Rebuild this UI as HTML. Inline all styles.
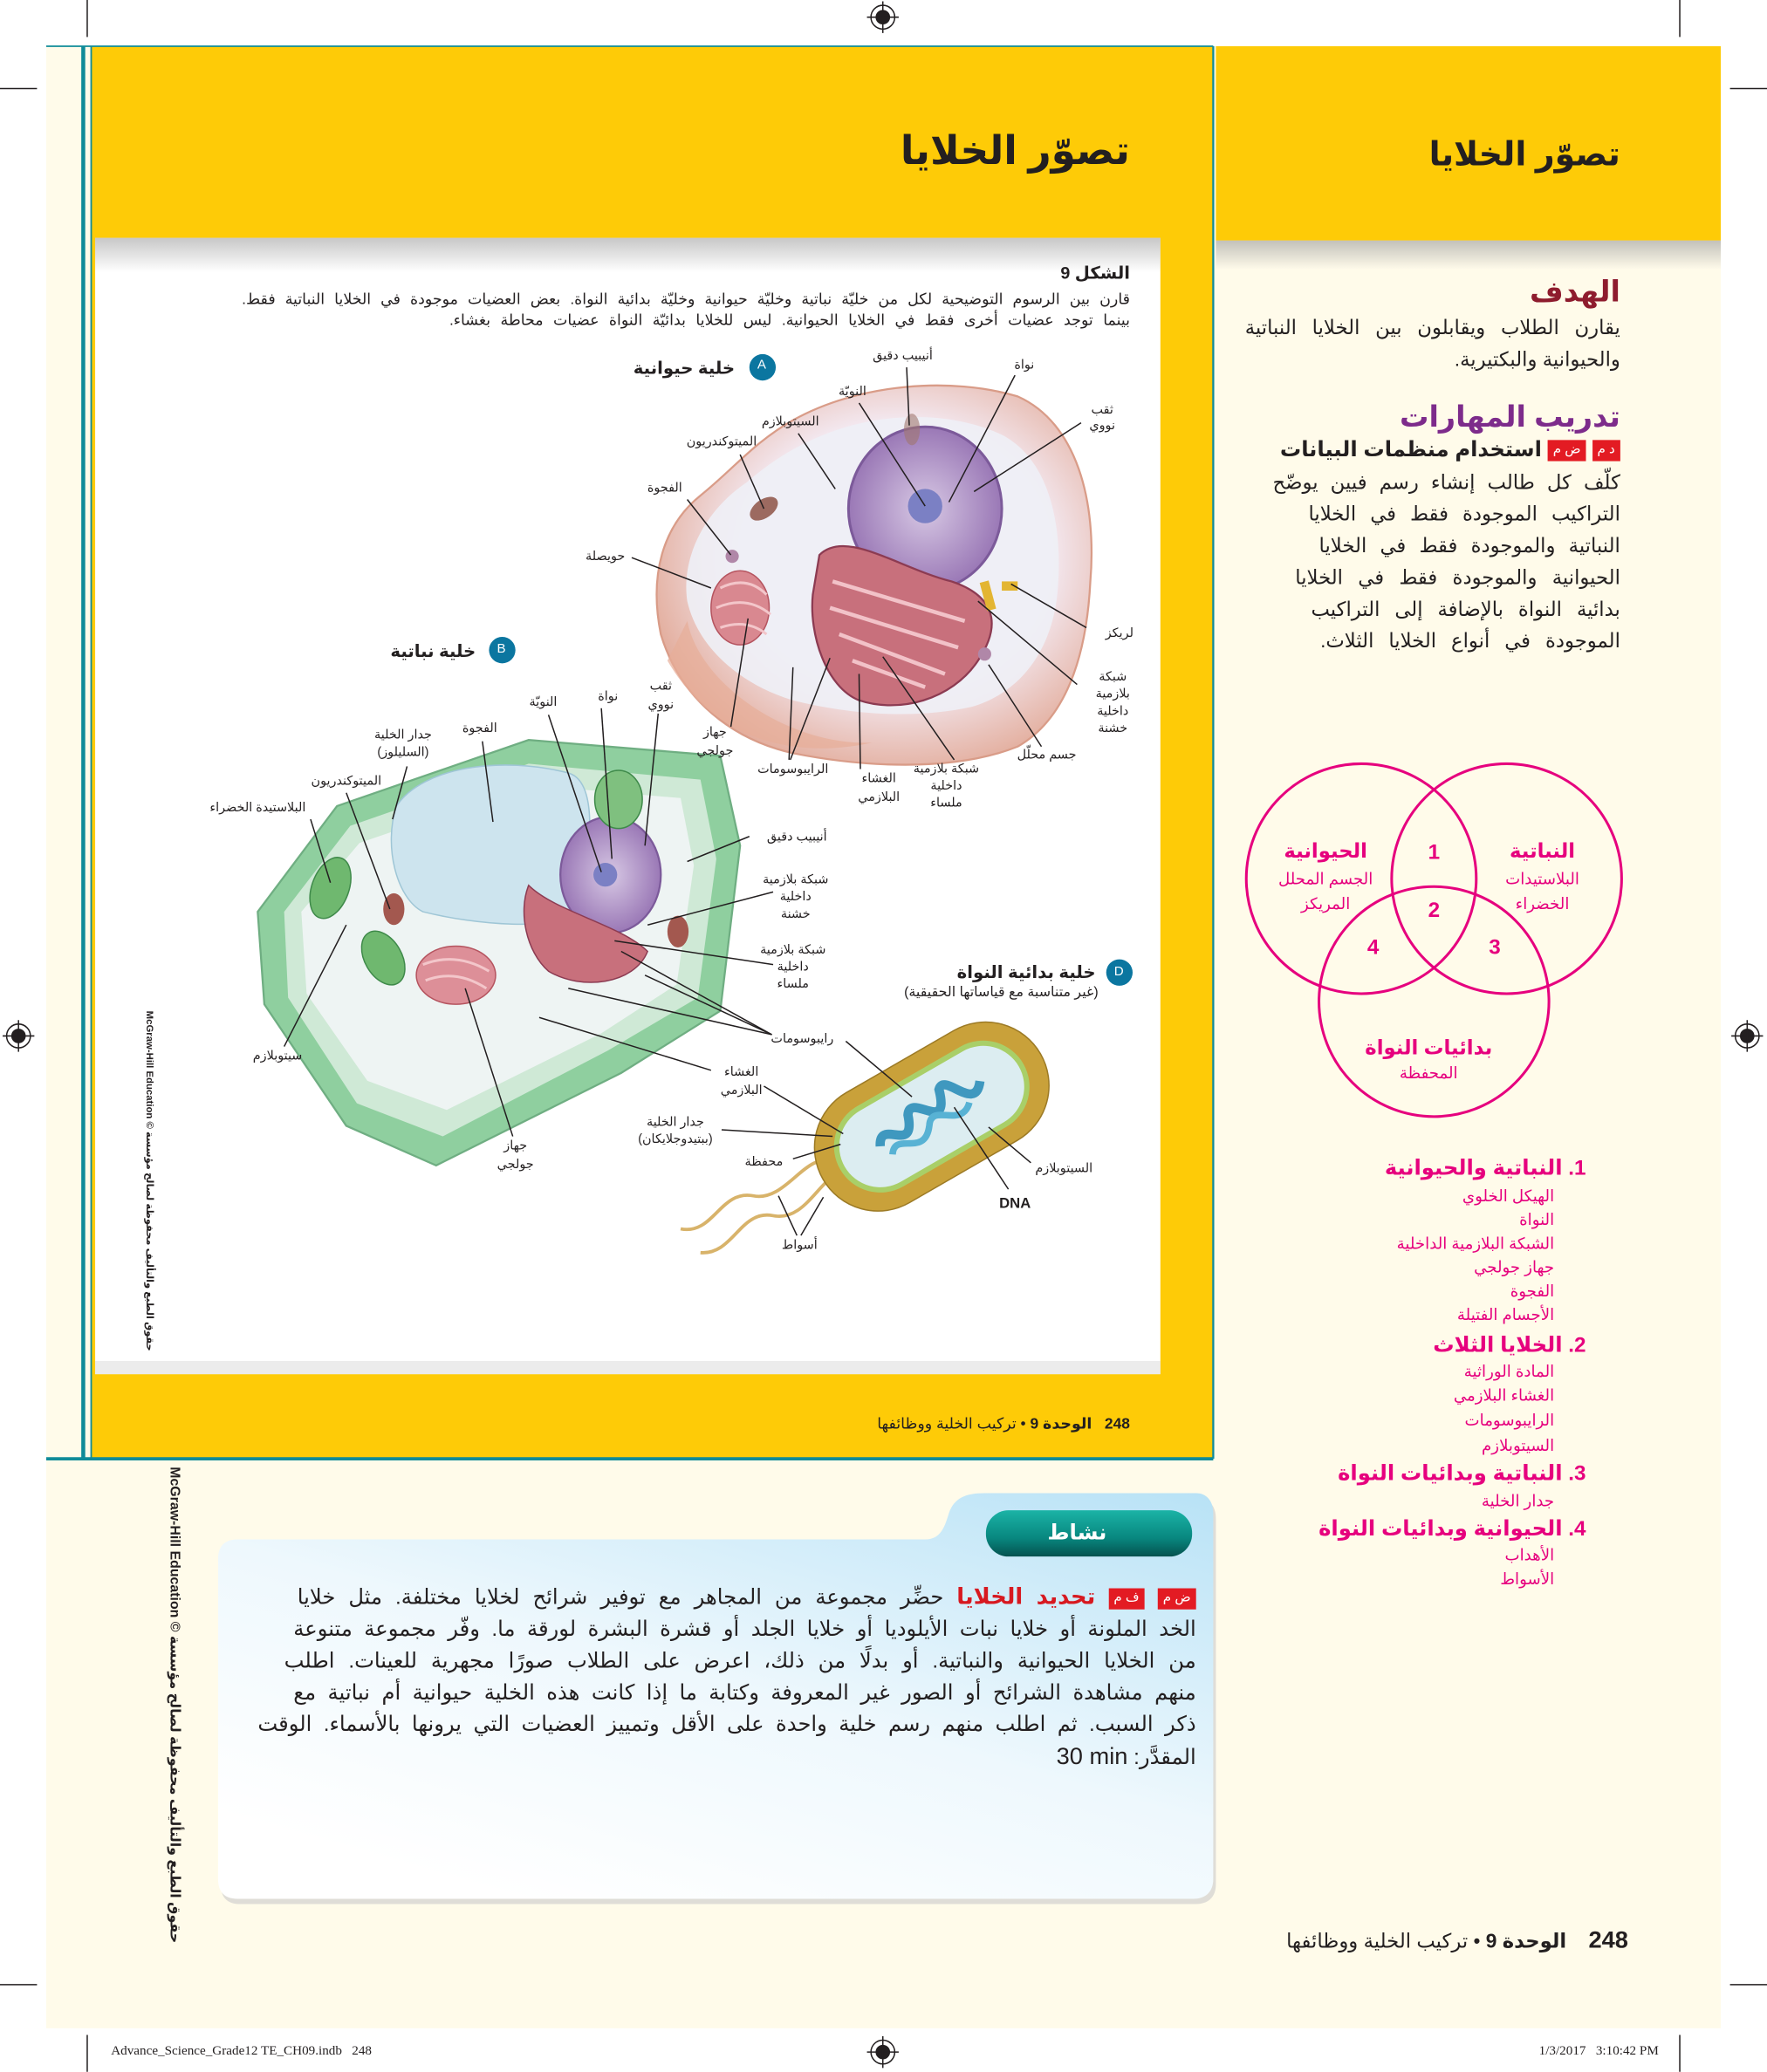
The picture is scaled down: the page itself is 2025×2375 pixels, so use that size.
<!DOCTYPE html>
<html><head><meta charset="utf-8">
<style>
html,body{margin:0;padding:0;background:#fff;}
body{width:2025px;height:2375px;overflow:hidden;position:relative;}
#p{position:absolute;left:0;top:0;width:1337px;height:1568px;transform:scale(1.51459);transform-origin:0 0;font-family:"Liberation Sans","DejaVu Sans",sans-serif;color:#231f20;}
.t{position:absolute;white-space:nowrap;direction:rtl;line-height:1;}
.c{position:absolute;white-space:nowrap;direction:rtl;text-align:center;transform:translate(-50%,-50%);font-size:9.5px;line-height:12px;color:#231f20;}
.j{position:absolute;white-space:nowrap;direction:rtl;text-align:justify;text-align-last:justify;line-height:1;}
.b{display:inline-block;background:#e31b23;color:#fff;font-size:10px;padding:2px 4px;line-height:12px;font-weight:normal;vertical-align:middle;}
.m{color:#e6007e;}
</style></head><body>
<div id="p">
<svg width="1337" height="1568" viewBox="0 0 1337 1568" style="position:absolute;left:0;top:0">
<defs>
<linearGradient id="sh" x1="0" y1="0" x2="0" y2="1"><stop offset="0" stop-color="#9a9a9a"/><stop offset="1" stop-color="#9a9a9a" stop-opacity="0"/></linearGradient>
<linearGradient id="act" x1="1" y1="0" x2="0.3" y2="1"><stop offset="0" stop-color="#b8e2f6"/><stop offset="0.55" stop-color="#eef8fd"/><stop offset="1" stop-color="#ffffff"/></linearGradient>
<linearGradient id="pill" x1="0" y1="0" x2="0" y2="1"><stop offset="0" stop-color="#1bb3a6"/><stop offset="0.6" stop-color="#08877f"/><stop offset="1" stop-color="#05524f"/></linearGradient>
<radialGradient id="ac" cx="0.55" cy="0.45" r="0.6"><stop offset="0.6" stop-color="#f3e7ee"/><stop offset="1" stop-color="#e2aa98"/></radialGradient>
<radialGradient id="nuc" cx="0.5" cy="0.5" r="0.5"><stop offset="0" stop-color="#d7c8e4"/><stop offset="1" stop-color="#9a78b6"/></radialGradient>
</defs>
<g stroke="#231f20" stroke-width="1">
<line x1="66" y1="0" x2="66" y2="28"/><line x1="1271" y1="0" x2="1271" y2="28"/>
<line x1="0" y1="67" x2="28" y2="67"/><line x1="1309" y1="67" x2="1337" y2="67"/>
<line x1="66" y1="1540" x2="66" y2="1568"/><line x1="1271" y1="1540" x2="1271" y2="1568"/>
<line x1="0" y1="1502" x2="28" y2="1502"/><line x1="1309" y1="1502" x2="1337" y2="1502"/>
</g>
<g fill="none" stroke="#231f20">
<circle cx="668" cy="13" r="9"/><circle cx="668" cy="13" r="5" fill="#231f20"/><line x1="656" y1="13" x2="680" y2="13"/><line x1="668" y1="1" x2="668" y2="25"/>
<circle cx="14" cy="784" r="9"/><circle cx="14" cy="784" r="5" fill="#231f20"/><line x1="2" y1="784" x2="26" y2="784"/><line x1="14" y1="772" x2="14" y2="796"/>
<circle cx="1322" cy="784" r="9"/><circle cx="1322" cy="784" r="5" fill="#231f20"/><line x1="1310" y1="784" x2="1334" y2="784"/><line x1="1322" y1="772" x2="1322" y2="796"/>
<circle cx="668" cy="1553" r="9"/><circle cx="668" cy="1553" r="5" fill="#231f20"/><line x1="656" y1="1553" x2="680" y2="1553"/><line x1="668" y1="1541" x2="668" y2="1565"/>
</g>
<rect x="35" y="35" width="1267" height="1500" fill="#fffbea"/>
<rect x="920" y="35" width="382" height="147" fill="#fecb07"/>
<rect x="920" y="182" width="382" height="22" fill="url(#sh)" opacity="0.6"/>
<rect x="69" y="35" width="849" height="1068" fill="#fecb07"/>
<rect x="72" y="180" width="806" height="860" fill="#fff"/>
<rect x="72" y="180" width="806" height="26" fill="url(#sh)" opacity="0.55"/>
<rect x="72" y="1030" width="806" height="10" fill="#d9d9d9" opacity="0.5"/>
<g stroke="#0f8b99" fill="none">
<line x1="35" y1="35" x2="918" y2="35" stroke-width="1.2"/>
<line x1="918" y1="35" x2="918" y2="1104" stroke-width="1.5"/>
<line x1="35" y1="1104" x2="918" y2="1104" stroke-width="2.5"/>
<line x1="63" y1="35" x2="63" y2="1104" stroke-width="3"/>
<line x1="69" y1="35" x2="69" y2="1104" stroke-width="1.2"/>
</g>
<path d="M600,318 C650,290 720,285 770,300 C815,320 830,380 825,440 C822,500 805,545 770,565 C720,585 650,580 600,570 C555,560 515,530 500,480 C490,430 505,395 530,375 C555,355 570,335 600,318 Z" fill="url(#ac)" stroke="#d99c88" stroke-width="1.5"/>
<path d="M610,335 C660,310 720,310 760,330 C795,350 805,400 800,450 C795,495 770,525 735,535 C690,545 640,540 600,530 C560,518 528,490 520,455 C515,420 535,385 565,365 C580,352 595,342 610,335 Z" fill="#eef0f6" opacity="0.9"/>
<path d="M520,470 C530,520 600,565 660,562 C600,575 540,560 505,500 Z" fill="#e7ae98" opacity="0.7"/>
<ellipse cx="700" cy="385" rx="58" ry="62" fill="url(#nuc)" stroke="#7c5a9a" stroke-width="2"/>
<circle cx="700" cy="383" r="13" fill="#7b80c4"/>
<path d="M620,420 C640,400 680,430 720,440 C750,450 760,470 740,500 C720,530 680,540 650,530 C625,520 612,480 615,450 Z" fill="#c8707c" stroke="#8c3b52" stroke-width="1.5"/>
<path d="M630,440 L730,470 M628,460 L725,490 M635,480 L715,510 M645,500 L700,520" stroke="#f2c2c8" stroke-width="3"/>
<ellipse cx="560" cy="460" rx="22" ry="28" fill="#d98890" stroke="#b5545f"/>
<path d="M545,445 Q565,435 580,450 M542,460 Q565,450 583,465 M545,475 Q565,468 580,480" stroke="#f3c6ca" stroke-width="2" fill="none"/>
<ellipse cx="578" cy="385" rx="12" ry="7" transform="rotate(-35 578 385)" fill="#9c6a60"/>
<ellipse cx="690" cy="325" rx="6" ry="12" fill="#a0766e" opacity="0.6"/>
<circle cx="554" cy="421" r="5" fill="#b087a8"/>
<circle cx="745" cy="495" r="5" fill="#b087a8"/>
<rect x="744" y="440" width="7" height="22" fill="#e3b532" transform="rotate(-15 747 451)"/>
<rect x="758" y="440" width="12" height="7" fill="#e3b532"/>
<path d="M195,690 L255,610 L400,560 L545,572 L560,640 L545,765 L470,812 L330,882 L262,852 L200,760 Z" fill="#8fcf9f" stroke="#6fae82" stroke-width="1.5"/>
<path d="M215,690 L265,625 L400,578 L530,590 L542,650 L528,755 L460,795 L335,860 L270,835 L218,755 Z" fill="#cfe9d6"/>
<path d="M228,690 L272,638 L400,594 L515,604 L525,655 L512,745 L455,782 L338,840 L278,818 L232,752 Z" fill="#eef4f3"/>
<path d="M300,610 C320,580 380,572 430,585 C455,592 445,650 440,690 C420,705 360,700 320,690 C300,680 290,640 300,610 Z" fill="#cde4ee" stroke="#9fc6d6"/>
<ellipse cx="462" cy="662" rx="38" ry="44" fill="url(#nuc)" stroke="#7c5a9a" stroke-width="1.5"/>
<circle cx="458" cy="662" r="9" fill="#7b80c4"/>
<path d="M400,670 C420,690 470,700 490,720 C480,745 440,750 415,735 C398,720 392,690 400,670 Z" fill="#c8707c" stroke="#8c3b52"/>
<ellipse cx="345" cy="738" rx="30" ry="22" fill="#dd8f98" stroke="#b5545f"/>
<path d="M320,730 Q345,720 370,735 M322,742 Q345,733 368,748" stroke="#f3c6ca" stroke-width="2" fill="none"/>
<ellipse cx="250" cy="672" rx="14" ry="24" transform="rotate(20 250 672)" fill="#6fb86f" stroke="#3f8a4a"/>
<ellipse cx="290" cy="725" rx="14" ry="22" transform="rotate(-30 290 725)" fill="#6fb86f" stroke="#3f8a4a"/>
<ellipse cx="468" cy="605" rx="18" ry="22" fill="#7fc07f" stroke="#3f8a4a"/>
<ellipse cx="298" cy="688" rx="8" ry="12" fill="#a3584f"/>
<ellipse cx="513" cy="705" rx="8" ry="12" fill="#a3584f"/>
<path d="M630,880 C610,870 595,910 570,905 C545,900 540,935 515,930" stroke="#d8b36a" stroke-width="2.5" fill="none"/>
<path d="M640,885 C620,890 610,925 585,920 C560,915 555,950 530,948" stroke="#d8b36a" stroke-width="2.5" fill="none"/>
<g transform="translate(705,845) rotate(-30)">
<rect x="-95" y="-48" width="190" height="96" rx="48" fill="#c9a13a" stroke="#9c7a25"/>
<rect x="-80" y="-35" width="160" height="70" rx="35" fill="#a9cf68"/>
<rect x="-76" y="-31" width="152" height="62" rx="31" fill="#dcedf1"/>
<path d="M-45,0 C-35,-20 -25,20 -15,-10 C-5,-25 5,20 15,-15 C25,-25 30,15 45,-5" stroke="#3f98bf" stroke-width="7" fill="none"/>
<path d="M-40,10 C-30,-5 -20,25 -5,5 C5,-10 15,20 30,5" stroke="#58b2d4" stroke-width="5" fill="none"/>
</g>
<g stroke="#231f20" stroke-width="1" fill="none">
<line x1="686" y1="278" x2="688" y2="322"/>
<line x1="768" y1="284" x2="718" y2="380"/>
<line x1="650" y1="305" x2="700" y2="383"/>
<line x1="818" y1="320" x2="737" y2="372"/>
<line x1="604" y1="328" x2="632" y2="370"/>
<line x1="560" y1="344" x2="578" y2="385"/>
<line x1="520" y1="378" x2="553" y2="420"/>
<line x1="478" y1="422" x2="538" y2="445"/>
<line x1="822" y1="475" x2="765" y2="442"/>
<line x1="815" y1="518" x2="740" y2="455"/>
<line x1="788" y1="565" x2="748" y2="503"/>
<line x1="722" y1="575" x2="668" y2="497"/>
<line x1="651" y1="582" x2="650" y2="510"/>
<line x1="597" y1="575" x2="600" y2="505"/>
<line x1="598" y1="575" x2="628" y2="498"/>
<line x1="553" y1="550" x2="566" y2="468"/>
<line x1="498" y1="540" x2="488" y2="640"/>
<line x1="455" y1="536" x2="463" y2="650"/>
<line x1="415" y1="541" x2="455" y2="660"/>
<line x1="365" y1="561" x2="373" y2="622"/>
<line x1="308" y1="580" x2="297" y2="620"/>
<line x1="262" y1="600" x2="295" y2="688"/>
<line x1="235" y1="620" x2="250" y2="668"/>
<line x1="215" y1="792" x2="262" y2="700"/>
<line x1="388" y1="860" x2="352" y2="748"/>
<line x1="567" y1="633" x2="520" y2="652"/>
<line x1="585" y1="675" x2="490" y2="700"/>
<line x1="585" y1="730" x2="465" y2="712"/>
<line x1="584" y1="783" x2="470" y2="720"/>
<line x1="584" y1="783" x2="488" y2="738"/>
<line x1="584" y1="783" x2="430" y2="748"/>
<line x1="538" y1="810" x2="408" y2="770"/>
<line x1="578" y1="822" x2="638" y2="858"/>
<line x1="546" y1="855" x2="630" y2="860"/>
<line x1="600" y1="877" x2="636" y2="866"/>
<line x1="603" y1="935" x2="589" y2="905"/>
<line x1="606" y1="935" x2="623" y2="906"/>
<line x1="780" y1="880" x2="748" y2="853"/>
<line x1="763" y1="900" x2="722" y2="838"/>
<line x1="640" y1="788" x2="690" y2="830"/>
</g>
<circle cx="577" cy="278" r="10" fill="#0b76a0"/>
<circle cx="380" cy="492" r="10" fill="#0b76a0"/>
<circle cx="847" cy="736" r="10" fill="#0b76a0"/>
<g fill="none" stroke="#e6007e" stroke-width="2">
<circle cx="1030" cy="665" r="87"/><circle cx="1140" cy="665" r="87"/><circle cx="1085" cy="758" r="87"/>
</g>
<path d="M180,1165 L700,1165 C712,1165 715,1155 718,1145 C722,1134 730,1130 745,1130 L905,1130 C913,1130 918,1136 918,1145 L918,1422 C918,1432 912,1437 903,1437 L180,1437 C170,1437 165,1432 165,1422 L165,1180 C165,1170 170,1165 180,1165 Z" fill="#c9c9c9" transform="translate(2,4)" opacity="0.6"/>
<path d="M180,1165 L700,1165 C712,1165 715,1155 718,1145 C722,1134 730,1130 745,1130 L905,1130 C913,1130 918,1136 918,1145 L918,1422 C918,1432 912,1437 903,1437 L180,1437 C170,1437 165,1432 165,1422 L165,1180 C165,1170 170,1165 180,1165 Z" fill="url(#act)"/>
<rect x="746" y="1143" width="156" height="35" rx="17" fill="url(#pill)"/>
</svg>

<div class="t" style="right:482px;top:100px;font-size:30px;font-weight:bold;">تصوّر الخلايا</div>
<div class="t" style="right:111px;top:105px;font-size:25px;font-weight:bold;">تصوّر الخلايا</div>

<div class="t" style="right:482px;top:200px;font-size:13px;font-weight:bold;">الشكل 9</div>
<div class="j" style="right:482px;top:222px;width:672px;font-size:11.5px;">قارن بين الرسوم التوضيحية لكل من خليّة نباتية وخليّة حيوانية وخليّة بدائية النواة. بعض العضيات موجودة في الخلايا النباتية فقط.</div>
<div class="j" style="right:482px;top:238px;width:515px;font-size:11.5px;">بينما توجد عضيات أخرى فقط في الخلايا الحيوانية. ليس للخلايا بدائيّة النواة عضيات محاطة بغشاء.</div>

<div class="t" style="right:781px;top:272px;font-size:13px;font-weight:bold;">خلية حيوانية</div>
<div class="t" style="left:573px;top:272px;font-size:10px;color:#fff;direction:ltr;">A</div>
<div class="t" style="right:977px;top:486px;font-size:13px;font-weight:bold;">خلية نباتية</div>
<div class="t" style="left:376px;top:487px;font-size:10px;color:#fff;direction:ltr;">B</div>
<div class="t" style="right:508px;top:729px;font-size:13px;font-weight:bold;">خلية بدائية النواة</div>
<div class="t" style="left:843px;top:731px;font-size:10px;color:#fff;direction:ltr;">D</div>
<div class="t" style="right:506px;top:746px;font-size:10.5px;">(غير متناسبة مع قياساتها الحقيقية)</div>

<div class="c" style="left:683px;top:270px;">أنيبيب دقيق</div>
<div class="c" style="left:775px;top:277px;">نواة</div>
<div class="c" style="left:645px;top:297px;">النويّة</div>
<div class="c" style="left:834px;top:317px;">ثقب<br>نووي</div>
<div class="c" style="left:598px;top:320px;">السيتوبلازم</div>
<div class="c" style="left:546px;top:335px;">الميتوكندريون</div>
<div class="c" style="left:503px;top:370px;">الفجوة</div>
<div class="c" style="left:458px;top:422px;">حويصلة</div>
<div class="c" style="left:847px;top:480px;">لريكز</div>
<div class="c" style="left:842px;top:532px;line-height:13px;">شبكة<br>بلازمية<br>داخلية<br>خشنة</div>
<div class="c" style="left:792px;top:572px;">جسم محلّل</div>
<div class="c" style="left:716px;top:595px;line-height:13px;">شبكة بلازمية<br>داخلية<br>ملساء</div>
<div class="c" style="left:665px;top:597px;line-height:14px;">الغشاء<br>البلازمي</div>
<div class="c" style="left:600px;top:583px;">الرايبوسومات</div>
<div class="c" style="left:541px;top:562px;line-height:14px;">جهاز<br>جولجي</div>

<div class="c" style="left:500px;top:527px;line-height:14px;">ثقب<br>نووي</div>
<div class="c" style="left:460px;top:528px;">نواة</div>
<div class="c" style="left:411px;top:532px;">النويّة</div>
<div class="c" style="left:363px;top:552px;">الفجوة</div>
<div class="c" style="left:305px;top:563px;line-height:13px;">جدار الخلية<br>(السليلوز)</div>
<div class="c" style="left:262px;top:592px;">الميتوكندريون</div>
<div class="c" style="left:195px;top:612px;">البلاستيدة الخضراء</div>
<div class="c" style="left:210px;top:800px;">سيتوبلازم</div>
<div class="c" style="left:390px;top:875px;line-height:14px;">جهاز<br>جولجي</div>
<div class="c" style="left:603px;top:634px;">أنيبيب دقيق</div>
<div class="c" style="left:602px;top:679px;line-height:13px;">شبكة بلازمية<br>داخلية<br>خشنة</div>
<div class="c" style="left:600px;top:732px;line-height:13px;">شبكة بلازمية<br>داخلية<br>ملساء</div>
<div class="c" style="left:607px;top:787px;">رايبوسومات</div>
<div class="c" style="left:561px;top:819px;line-height:14px;">الغشاء<br>البلازمي</div>
<div class="c" style="left:511px;top:856px;line-height:13px;">جدار الخلية<br>(ببتيدوجلايكان)</div>
<div class="c" style="left:578px;top:880px;">محفظة</div>
<div class="c" style="left:605px;top:943px;">أسواط</div>
<div class="c" style="left:805px;top:885px;">السيتوبلازم</div>
<div class="c" style="left:768px;top:911px;font-weight:bold;font-size:11px;direction:ltr;">DNA</div>

<div class="t" style="left:117px;top:765px;font-size:7.5px;font-weight:bold;transform:rotate(90deg);transform-origin:0 0;direction:ltr;">McGraw-Hill Education © حقوق الطبع والتأليف محفوظة لصالح مؤسسة</div>
<div class="t" style="left:137px;top:1110px;font-size:10.5px;font-weight:bold;transform:rotate(90deg);transform-origin:0 0;direction:ltr;">McGraw-Hill Education © حقوق الطبع والتأليف محفوظة لصالح مؤسسة</div>

<div class="t" style="right:482px;top:1073px;font-size:11.5px;"><b>248</b>&nbsp;&nbsp; <b>الوحدة 9</b> • تركيب الخلية ووظائفها</div>

<div class="t" style="right:111px;top:210px;font-size:22px;font-weight:bold;color:#8e1c2e;">الهدف</div>
<div class="j" style="right:111px;top:241px;width:284px;font-size:15px;">يقارن الطلاب ويقابلون بين الخلايا النباتية</div>
<div class="t" style="right:111px;top:265px;font-size:15px;">والحيوانية والبكتيرية.</div>
<div class="t" style="right:111px;top:305px;font-size:22px;font-weight:bold;color:#7d2b8b;">تدريب المهارات</div>
<div class="t" style="right:111px;top:333px;font-size:16px;font-weight:bold;"><span class="b">د م</span> <span class="b">ض م</span> استخدام منظمات البيانات</div>
<div class="j" style="right:111px;top:358px;width:263px;font-size:15px;">كلّف كل طالب إنشاء رسم فيين يوضّح</div>
<div class="j" style="right:111px;top:382px;width:236px;font-size:15px;">التراكيب الموجودة فقط في الخلايا</div>
<div class="j" style="right:111px;top:406px;width:228px;font-size:15px;">النباتية والموجودة فقط في الخلايا</div>
<div class="j" style="right:111px;top:430px;width:246px;font-size:15px;">الحيوانية والموجودة فقط في الخلايا</div>
<div class="j" style="right:111px;top:454px;width:234px;font-size:15px;">بدائية النواة بالإضافة إلى التراكيب</div>
<div class="j" style="right:111px;top:478px;width:227px;font-size:15px;">الموجودة في أنواع الخلايا الثلاث.</div>

<div class="c m" style="left:1003px;top:645px;font-size:15px;font-weight:bold;">الحيوانية</div>
<div class="c m" style="left:1003px;top:665px;font-size:12px;">الجسم المحلل</div>
<div class="c m" style="left:1003px;top:684px;font-size:12px;">المريكز</div>
<div class="c m" style="left:1167px;top:645px;font-size:15px;font-weight:bold;">النباتية</div>
<div class="c m" style="left:1167px;top:665px;font-size:12px;">البلاستيدات</div>
<div class="c m" style="left:1167px;top:684px;font-size:12px;">الخضراء</div>
<div class="c m" style="left:1085px;top:646px;font-size:16px;font-weight:bold;">1</div>
<div class="c m" style="left:1085px;top:690px;font-size:16px;font-weight:bold;">2</div>
<div class="c m" style="left:1039px;top:718px;font-size:16px;font-weight:bold;">4</div>
<div class="c m" style="left:1131px;top:718px;font-size:16px;font-weight:bold;">3</div>
<div class="c m" style="left:1081px;top:794px;font-size:15px;font-weight:bold;">بدائيات النواة</div>
<div class="c m" style="left:1081px;top:812px;font-size:12px;">المحفظة</div>

<div class="t m" style="right:137px;top:877px;font-size:16px;font-weight:bold;">1. النباتية والحيوانية</div>
<div class="t m" style="right:161px;top:899px;font-size:12px;">الهيكل الخلوي</div>
<div class="t m" style="right:161px;top:917px;font-size:12px;">النواة</div>
<div class="t m" style="right:161px;top:935px;font-size:12px;">الشبكة البلازمية الداخلية</div>
<div class="t m" style="right:161px;top:953px;font-size:12px;">جهاز جولجي</div>
<div class="t m" style="right:161px;top:971px;font-size:12px;">الفجوة</div>
<div class="t m" style="right:161px;top:989px;font-size:12px;">الأجسام الفتيلة</div>
<div class="t m" style="right:137px;top:1011px;font-size:16px;font-weight:bold;">2. الخلايا الثلاث</div>
<div class="t m" style="right:161px;top:1032px;font-size:12px;">المادة الوراثية</div>
<div class="t m" style="right:161px;top:1050px;font-size:12px;">الغشاء البلازمي</div>
<div class="t m" style="right:161px;top:1069px;font-size:12px;">الرايبوسومات</div>
<div class="t m" style="right:161px;top:1088px;font-size:12px;">السيتوبلازم</div>
<div class="t m" style="right:137px;top:1108px;font-size:16px;font-weight:bold;">3. النباتية وبدائيات النواة</div>
<div class="t m" style="right:161px;top:1130px;font-size:12px;">جدار الخلية</div>
<div class="t m" style="right:137px;top:1150px;font-size:16px;font-weight:bold;">4. الحيوانية وبدائيات النواة</div>
<div class="t m" style="right:161px;top:1171px;font-size:12px;">الأهداب</div>
<div class="t m" style="right:161px;top:1189px;font-size:12px;">الأسواط</div>

<div class="t" style="left:815px;top:1161px;transform:translate(-50%,-50%);font-size:16px;font-weight:bold;color:#fff;">نشاط</div>
<div class="j" style="right:432px;top:1200px;width:680px;font-size:16px;"><span class="b">ض م</span> <span class="b">ف م</span> <b style="color:#d71920;font-size:17px;">تحديد الخلايا</b> حضِّر مجموعة من المجاهر مع توفير شرائح لخلايا مختلفة. مثل خلايا</div>
<div class="j" style="right:432px;top:1226px;width:683px;font-size:16px;">الخد الملونة أو خلايا نبات الأيلوديا أو خلايا الجلد أو قشرة البشرة لورقة ما. وفّر مجموعة متنوعة</div>
<div class="j" style="right:432px;top:1250px;width:690px;font-size:16px;">من الخلايا الحيوانية والنباتية. أو بدلًا من ذلك، اعرض على الطلاب صورًا مجهرية للعينات. اطلب</div>
<div class="j" style="right:432px;top:1274px;width:683px;font-size:16px;">منهم مشاهدة الشرائح أو الصور غير المعروفة وكتابة ما إذا كانت هذه الخلية حيوانية أم نباتية مع</div>
<div class="j" style="right:432px;top:1298px;width:710px;font-size:16px;">ذكر السبب. ثم اطلب منهم رسم خلية واحدة على الأقل وتمييز العضيات التي يرونها بالأسماء. الوقت</div>
<div class="t" style="right:432px;top:1320px;font-size:16px;">المقدَّر: <span style="font-size:18px;direction:ltr;unicode-bidi:isolate;display:inline-block;">30 min</span></div>

<div class="t" style="right:105px;top:1459px;font-size:15px;"><b style="font-size:18px">248</b>&nbsp;&nbsp;&nbsp; <b>الوحدة 9</b> • تركيب الخلية ووظائفها</div>

<div class="t" style="left:84px;top:1548px;font-size:10px;direction:ltr;font-family:'Liberation Serif',serif;">Advance_Science_Grade12 TE_CH09.indb&nbsp;&nbsp;&nbsp;248</div>
<div class="t" style="right:82px;top:1548px;font-size:10px;direction:ltr;font-family:'Liberation Serif',serif;">1/3/2017&nbsp;&nbsp;&nbsp;3:10:42 PM</div>
</div>
</body></html>
